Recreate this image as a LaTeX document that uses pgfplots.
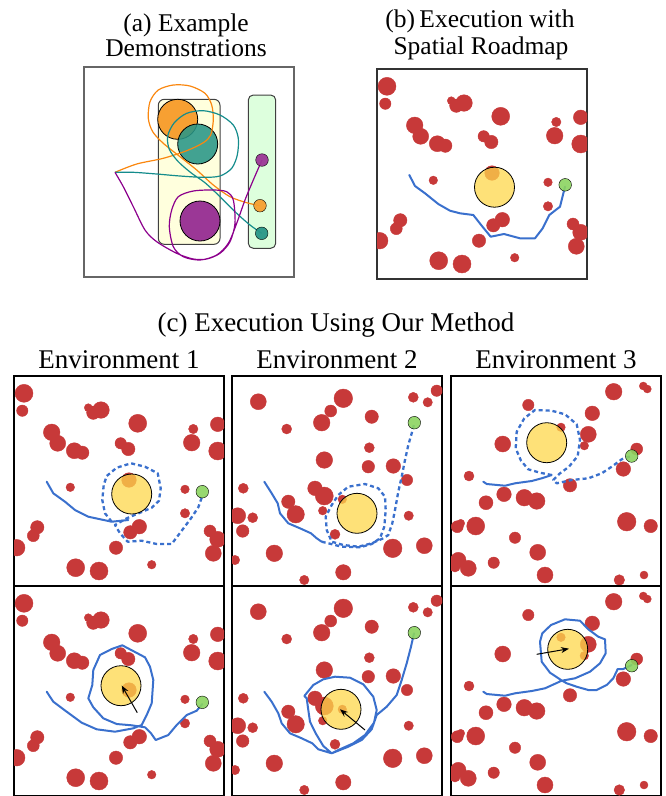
\documentclass[border=0pt]{standalone}
\usepackage{fontspec}
\setmainfont{Liberation Serif}
\usepackage{pgfplots}
\usepackage{pgfplotstable}
\pgfplotsset{compat=1.18}
\usetikzlibrary{arrows.meta}

\definecolor{obst}{RGB}{199,57,57}
\definecolor{goalyellow}{RGB}{254,215,75}
\definecolor{tgreen}{RGB}{140,212,96}
\definecolor{pblue}{RGB}{58,112,205}
\definecolor{aorange}{RGB}{247,160,50}
\definecolor{aorangeline}{RGB}{250,135,15}
\definecolor{ateal}{RGB}{40,150,135}
\definecolor{atealline}{RGB}{20,140,140}
\definecolor{apurple}{RGB}{155,55,150}
\definecolor{apurpleline}{RGB}{140,0,140}
\definecolor{ayellowbox}{RGB}{255,255,221}
\definecolor{agreenbox}{RGB}{221,255,221}

\newcommand{\ftitle}{\fontsize{25.5}{30}\selectfont}
\newcommand{\fbig}{\fontsize{27}{32}\selectfont}

\pgfplotstableread{
x y r
10 17.3 9
8.3 34.7 5.7
74.3 31.7 4
79.3 36.7 6.7
87 34 8.3
123.7 47.3 9
37.7 56.3 8.3
43.7 67.3 8
60.3 74.7 8
68.3 76.7 6.7
106.7 67.3 5.7
114.3 73 6.7
179.3 53 4.7
177.7 66.7 8.3
203.7 48.3 7.3
203.7 75 9
56.3 111.3 4.3
171 113.3 4.3
115 104 7.3
171 137.3 4.7
23.3 151.3 6.7
19.3 159.7 6
2.7 171.7 8.3
125.3 150.7 7.3
116.3 156.3 6.7
102 171.7 6.7
196 155 6
203.7 163.3 8
199.3 177.3 8
61.7 191.7 9
85 195 9
137.7 188.7 4.3
}\envone

\pgfplotstableread{
x y r
26.3 25.7 8
111.3 22.3 9.3
98.7 35 6
89.7 46.7 8.3
54.7 53 5
139.7 40.7 6.7
181.3 21.3 5
195.7 26.3 4.7
204.7 14.7 5.7
137.3 71.7 5
92.3 84 8.3
136.3 90.7 6.3
161.3 90 7.3
175 104 5.7
83 112.3 7.3
92.3 120 9
11.3 112.3 5
56.3 125.7 6.7
63.7 138.3 8.7
90.7 134.7 4.3
110.3 123.3 4.3
5.7 139.7 8
20.7 141.7 5
10.7 155 6.3
103 158.3 5
176.7 139.7 4.7
42.3 177.3 8.3
160.7 172.3 9.3
192.3 169.7 8
3 184 4.7
111.3 196.3 7.7
72.3 204 4.7
}\envtwo

\pgfplotstableread{
x y r
162.7 15.7 8.3
192.3 10 4
196.3 13 4
77.3 29 5.7
141.3 37.3 7.3
110 51.3 4.3
137.3 58.3 8
133.3 69.7 4.3
51.7 68 8
185.7 73 6
172.3 93 7.3
18 100 5
119 109.3 6.7
53 118.3 7.3
73.3 121.7 8.3
85.7 125 8.3
35 126.7 7
175.7 145.7 9.3
199.7 150 6.7
6.3 150.7 6
9.7 147.3 4
24.7 150 9
64 161.7 5.7
86.7 176.3 8
7.3 184 7.7
17.3 192.3 8
4 190.7 5.3
42.7 186.7 5.7
94 199 8
168.3 204 5.3
193 199 4
}\envthree

\pgfplotsset{
  panel/.style={scale only axis, width=210pt, height=210pt,
    xmin=0, xmax=210, ymin=0, ymax=210, y dir=reverse,
    xtick=\empty, ytick=\empty, clip marker paths=true,
    anchor=north west, axis line style={line width=1.2pt, black}},
  obstacles/.style={scatter, only marks, mark=*, color=obst,
    mark options={draw=obst, fill=obst},
    scatter/use mapped color={draw=obst, fill=obst},
    visualization depends on={\thisrow{r}\as\obsr},
    scatter/@pre marker code/.append style={/tikz/mark size=\obsr}},
  goal/.style={only marks, mark=*, mark size=20,
    mark options={fill=goalyellow, fill opacity=0.75, draw=black, draw opacity=1, line width=0.8pt}},
  target/.style={only marks, mark=*, mark size=6.3,
    mark options={fill=tgreen, draw=none, fill opacity=0.9}},
  bluepath/.style={no marks, color=pblue, line width=2pt, line join=round, line cap=round},
  dashpath/.style={no marks, color=pblue, line width=2.3pt, line join=round, dash pattern=on 4pt off 3pt},
  movearrow/.style={no marks, black, line width=1pt, -{Stealth[length=8pt, width=6pt]}},
}

\begin{document}
\begin{tikzpicture}
\path[use as bounding box] (0,0) rectangle (665pt,-796pt);

% titles
\node[anchor=base, font=\ftitle, inner sep=0pt] at (186pt,-31pt) {(a) Example};
\node[anchor=base, font=\ftitle, inner sep=0pt] at (186pt,-56.5pt) {Demonstrations};
\node[anchor=base, font=\ftitle, inner sep=0pt] at (480pt,-27pt) {(b)\,Execution with};
\node[anchor=base, font=\ftitle, inner sep=0pt] at (481pt,-54.5pt) {Spatial Roadmap};
\node[anchor=base, font=\fbig, inner sep=0pt] at (336pt,-331.5pt) {(c) Execution Using Our Method};
\node[anchor=base, font=\fbig, inner sep=0pt] at (119pt,-368pt) {Environment 1};
\node[anchor=base, font=\fbig, inner sep=0pt] at (337pt,-368pt) {Environment 2};
\node[anchor=base, font=\fbig, inner sep=0pt] at (556pt,-368pt) {Environment 3};

% ---------- (a) ----------
\begin{axis}[panel, at={(84pt,-67pt)}, axis line style={line width=1.6pt, black!60}]
\addplot[draw=black!75, fill=ayellowbox, line width=1pt, rounded corners=6pt]
  coordinates {(74.3,32.3) (136,32.3) (136,177.3) (74.3,177.3)} -- cycle;
\addplot[draw=black!75, fill=agreenbox, line width=1pt, rounded corners=5pt]
  coordinates {(164.3,28) (191.7,28) (191.7,181.3) (164.3,181.3)} -- cycle;
\addplot[only marks, mark=*, mark size=20, mark options={fill=aorange, draw=black, line width=0.8pt}]
  coordinates {(93.7,52.3)};
\addplot[only marks, mark=*, mark size=20, mark options={fill=ateal, fill opacity=0.88, draw=black, draw opacity=1, line width=0.8pt}]
  coordinates {(113.7,77)};
\addplot[only marks, mark=*, mark size=20, mark options={fill=apurple, draw=black, line width=0.8pt}]
  coordinates {(116,154)};
\addplot[no marks, smooth, tension=0.5, aorangeline, line width=1.2pt] coordinates {
(31,105.3) (52.7,97) (79.3,91.3) (102.7,83.7) (119.3,75.7) (126.7,68) (129.3,53) (127.7,38)
(121,26.3) (106,19) (89.3,18) (74.3,23) (66,34.7) (64.3,51.3) (68.7,64.7) (79.3,76.3)
(96,89.7) (112.7,103) (129.3,118) (146,129.7) (162.7,135.7) (176,138.7)};
\addplot[no marks, smooth, tension=0.5, atealline, line width=1.2pt] coordinates {
(31,105.3) (49.3,105.3) (72.7,107) (96,109) (119.3,110.3) (136,109) (147.7,101.3) (153.3,88)
(154.3,71.3) (149.3,58) (136,48) (119.3,43.7) (102.7,46.3) (90.3,55.7) (83.7,69) (85.3,82.3)
(94.3,94.7) (107.7,106.3) (121,115.7) (136,129.7) (152.7,146.3) (166,158) (177.7,166.3)};
\addplot[no marks, smooth, tension=0.5, apurpleline, line width=1.2pt] coordinates {
(31,105.3) (39.3,119.7) (49.3,139.7) (61,163) (72.7,174.7) (92.7,186.3) (109.3,192) (122.7,192)
(136,186.3) (146,174.7) (151,156.3) (149.3,133) (142.7,124.7) (129.3,123) (109.3,124) (94.3,129.7)
(87.7,143) (85.3,159.7) (89.3,179.7) (99.3,189.7) (116,193) (132.7,188) (144.3,176.3) (152.7,156.3)
(161,133) (169.3,113) (178,93)};
\addplot[only marks, mark=*, mark size=6.3, mark options={fill=apurple, draw=none, fill opacity=0.95}] coordinates {(178,93)};
\addplot[only marks, mark=*, mark size=6.3, mark options={fill=aorange, draw=none, fill opacity=0.95}] coordinates {(176,138.7)};
\addplot[only marks, mark=*, mark size=6.3, mark options={fill=ateal, draw=none, fill opacity=0.95}] coordinates {(177.7,166.3)};
\end{axis}

% ---------- (b) ----------
\begin{axis}[panel, at={(377pt,-69pt)}, axis line style={line width=1.3pt, black!80}]
\addplot[obstacles] table {\envone};
\addplot[bluepath] coordinates {
(32.3,106) (38,117) (48,124.3) (61.3,135) (73,141.7) (83,144.3) (96.3,146) (104.7,156.7)
(113.7,167.7) (127,165) (143,169.3) (158,169.3) (165.7,159.3) (172.3,146) (183,137.7) (188,117.7)};
\addplot[goal] coordinates {(117.5,118.2)};
\addplot[target] coordinates {(188.2,115.8)};
\end{axis}

% ---------- Env 1 row 1 ----------
\begin{axis}[panel, at={(14pt,-376pt)}]
\addplot[obstacles] table {\envone};
\addplot[bluepath] coordinates {
(32.7,105.7) (39.3,117.3) (51,125.7) (61,134) (74.3,140.7) (97.7,145.7) (114.3,144)};
\addplot[dashpath] coordinates {
(97.7,145.7) (91,137.3) (88.3,124) (89.7,109) (92.7,100) (102.7,91.7) (117,87.3) (131,90.7)
(143.7,97.3) (146.7,112.3) (145,124.7) (137.7,131.7) (126,136.7) (112.7,142.3) (101,149)
(106,157.3) (113.7,165.7) (127.7,164.7) (142.7,168) (157.7,168) (167.7,154.7) (177.7,141.3)
(184.3,131.3) (188.3,120)};
\addplot[goal] coordinates {(117.7,118)};
\addplot[target] coordinates {(188.3,115.7)};
\end{axis}

% ---------- Env 2 row 1 ----------
\begin{axis}[panel, at={(232pt,-376pt)}]
\addplot[obstacles] table {\envtwo};
\addplot[bluepath] coordinates {
(32.3,105.7) (39.7,117.3) (45.7,127.3) (48,137.3) (56.3,147.3) (68,152.3) (79,157.3) (84.7,162.3) (89.7,165.7)};
\addplot[dashpath] coordinates {
(89.7,165.7) (96.3,167.3) (109.7,170.7) (128,171.3) (139.7,168) (148,162.3) (152.3,150.7)
(153.7,134) (153,120.7) (146.3,112.3) (133,108) (116.3,110.7) (106.3,119) (99.7,129)
(93.7,140.7) (94.7,154) (99.7,165.7) (111.3,169) (126.3,170.7) (139.7,167.3) (151.3,162.3)
(156.3,159) (160.3,147.3) (163,134) (166.3,115.7) (169.7,100.7) (173,84) (176.3,69)
(179.7,57.3) (182.3,47.3)};
\addplot[goal] coordinates {(125,137.3)};
\addplot[target] coordinates {(182.3,46.7)};
\end{axis}

% ---------- Env 3 row 1 ----------
\begin{axis}[panel, at={(451pt,-376pt)}]
\addplot[obstacles] table {\envthree};
\addplot[bluepath] coordinates {
(32.3,105.7) (35.7,108) (54,109.7) (64,107.3) (80.7,105) (90.7,102.3) (100.7,99)};
\addplot[dashpath] coordinates {
(100.7,99) (89,96.7) (77.3,93.3) (70,84.7) (64.7,72.3) (65.7,55.7) (73.3,42.3) (84,34)
(100.7,34.7) (114,38.3) (125.7,48.3) (129,64) (126.7,80) (118,90.7) (109,97.3) (102.3,104)
(105.7,107.3) (120.7,104) (137.3,102.3) (150.7,97.3) (160.7,90.7) (170.7,83.3) (180,80)};
\addplot[goal] coordinates {(95.7,66.7)};
\addplot[target] coordinates {(180.7,80)};
\end{axis}

% ---------- Env 1 row 2 ----------
\begin{axis}[panel, at={(14pt,-586pt)}]
\addplot[obstacles] table {\envone};
\addplot[bluepath] coordinates {
(32.7,105.7) (39.3,115.7) (52.7,125.7) (67.7,136.7) (82.7,143.3) (101,145.7) (119.3,142.3)
(127.7,139) (132.7,129) (137.7,117.3) (139.3,94) (136,80.7) (131,71.3) (108.3,59.3) (97.7,63)
(86,69) (79.3,84) (78.3,99) (74.3,112.3) (79.3,121.3) (89.3,132.3) (102.7,138) (117.7,139.3)
(131,141.3) (137,147.3) (141.7,154) (154.3,149) (162.7,139) (172.7,129) (182.7,124.7) (188.3,118)};
\addplot[goal] coordinates {(107,99.7)};
\addplot[movearrow] coordinates {(123.3,126.7) (107.7,99.5)};
\addplot[target] coordinates {(188.3,116.3)};
\end{axis}

% ---------- Env 2 row 2 ----------
\begin{axis}[panel, at={(232pt,-586pt)}]
\addplot[obstacles] table {\envtwo};
\addplot[bluepath] coordinates {
(32.3,105.7) (39.7,115.7) (46.3,127.3) (49.7,137.3) (58,147.3) (69.7,152.3) (80.3,157.3)
(86.3,163.3) (99.7,167.3) (91.3,160) (83.7,147.3) (78,135.7) (76.3,124) (74.7,112.3) (72.3,110)
(81.3,99) (91.3,93.3) (103,90.7) (118,91.7) (131.3,98.3) (141.3,110.7) (144.7,124) (142,136.7)
(133,149) (121.3,157.3) (106.3,164) (99.7,167.3) (116.3,160.7) (129.7,154) (139.7,143.3)
(144.7,129) (154.7,120.7) (164.7,109) (169.7,94) (174.7,77.3) (179,60.7) (182,47.3)};
\addplot[goal] coordinates {(109,123.3)};
\addplot[movearrow] coordinates {(133,144) (108,123.3)};
\addplot[target] coordinates {(182.3,46.7)};
\end{axis}

% ---------- Env 3 row 2 ----------
\begin{axis}[panel, at={(451pt,-586pt)}]
\addplot[obstacles] table {\envthree};
\addplot[bluepath] coordinates {
(32.3,105.7) (35.7,108) (54,109.7) (64,107.3) (80.7,105) (94,102.3) (110.7,94.7) (124,92.3)
(139,85.7) (149,77.3) (154.7,67.3) (154,53.3) (147.3,50.7) (137.3,43.3) (129,34.7) (114,33.3)
(100,39) (91.3,47.3) (89,55.7) (90.7,75.7) (99,86.7) (110,94) (115.7,97.3) (125.7,100.7)
(137.3,104) (145.7,104) (155.7,99) (162.3,92.3) (166.7,83) (172.3,83) (180.7,79)};
\addplot[goal] coordinates {(116.7,63.3)};
\addplot[movearrow] coordinates {(85.7,68.3) (118,62.7)};
\addplot[target] coordinates {(180.7,79.7)};
\end{axis}
\end{tikzpicture}
\end{document}
